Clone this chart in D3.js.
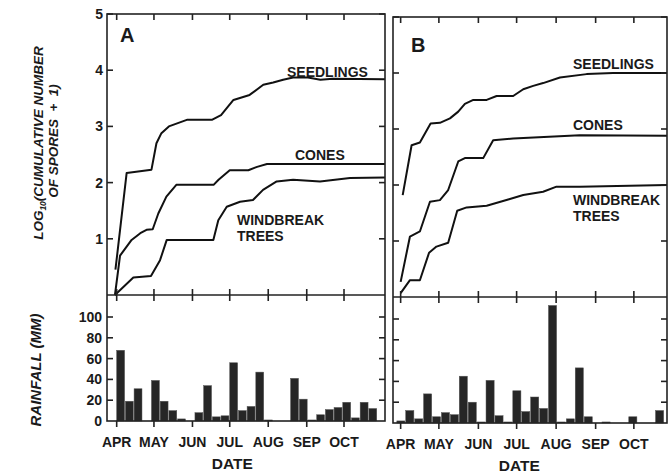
<!DOCTYPE html>
<html>
<head>
<meta charset="utf-8">
<script src="https://cdn.jsdelivr.net/npm/d3@7"></script>
<style>
  body { margin: 0; background: #fff; }
  text { font-family: "Liberation Sans", Arial, sans-serif; font-weight: bold; fill: #1a1a1a; }
</style>
</head>
<body>
<svg id="chart" width="668" height="474"></svg>
<script>
// days since 1 April
var monthDays = [0, 30, 61, 91, 122, 153, 183]
var monthNames = ["APR", "MAY", "JUN", "JUL", "AUG", "SEP", "OCT"]
var logTicks = [1, 2, 3, 4, 5]
var rainTicks = [0, 20, 40, 60, 80, 100]

// panel A: [day, log10(cumulative spores + 1)]
var seedlingsA = [[-1, 0.45], [8, 2.17], [28, 2.23], [32, 2.7], [36, 2.88], [42, 3.0], [57, 3.12], [77, 3.12], [84, 3.2], [94, 3.47], [107, 3.56], [118, 3.74], [126, 3.78], [134, 3.83], [142, 3.87], [154, 3.87], [164, 3.83], [174, 3.85], [216, 3.84]]
var conesA = [[-1.4, 0], [2.7, 0.7], [12, 0.98], [19, 1.1], [24, 1.16], [29, 1.17], [33.5, 1.45], [40, 1.75], [48, 1.96], [78, 1.96], [82, 2.05], [91, 2.22], [106, 2.22], [113, 2.28], [121, 2.33], [216, 2.33]]
var windbreakA = [[-1.4, 0], [13.4, 0.31], [27.6, 0.34], [34.9, 0.62], [40.3, 0.98], [77.8, 0.98], [81.8, 1.33], [88.6, 1.57], [99.3, 1.66], [109.7, 1.69], [117.8, 1.87], [128.8, 2.02], [142, 2.05], [163.7, 2.02], [187.8, 2.08], [216, 2.09]]

// panel B
var seedlingsB = [[1.6, 1.82], [8.6, 2.71], [15.1, 2.76], [23.5, 3.1], [30.8, 3.11], [38.7, 3.19], [45.2, 3.31], [50.4, 3.45], [57, 3.52], [67.5, 3.52], [75.3, 3.59], [88.3, 3.59], [96.2, 3.71], [104, 3.77], [111.8, 3.82], [125, 3.92], [145.9, 3.98], [166.7, 4.0], [209, 4.0]]
var conesB = [[0, 0.27], [7.3, 1.08], [15.1, 1.17], [23, 1.7], [30.8, 1.73], [37.3, 1.91], [45.2, 2.42], [50.4, 2.48], [64.8, 2.48], [72.6, 2.8], [88.3, 2.83], [140.6, 2.89], [209, 2.88]]
var windbreakB = [[0, 0.07], [7.3, 0.3], [15.1, 0.3], [22.3, 0.79], [28.1, 0.9], [37.3, 0.97], [44.4, 1.54], [51.8, 1.6], [67.5, 1.63], [84.4, 1.74], [96.2, 1.82], [111.8, 1.88], [122.3, 1.97], [140.6, 1.97], [209, 2.0]]

// weekly rainfall (mm)
var rainA = [68, 19, 31, 0, 39, 19, 10, 2, 0, 8, 34, 4, 5, 56, 10, 14, 47, 1, 0, 0, 41, 21, 1, 6, 11, 13, 18, 3, 18, 12]
var rainB = [2, 12, 4, 28, 6, 10, 8, 45, 20, 1, 41, 7, 1, 31, 11, 25, 14, 113, 1, 4, 53, 6, 0, 1, 0, 0, 6, 0, 0, 12]
var weekStartA = 0
var weekStartB = -3

var svg = d3.select("#chart")

var panels = [
  { id: "A", left: 107, right: 385, top: 14, mid: 295, bottom: 421, dom: [-7.8, 216],
    seedlings: seedlingsA, cones: conesA, windbreak: windbreakA, rain: rainA, weekStart: weekStartA,
    letter: [120, 42], lab: { seed: [287, 77], cones: [295, 160], wind: [237, 225] }, axisLabels: true },
  { id: "B", left: 393, right: 667, top: 17, mid: 297, bottom: 423, dom: [-6, 209],
    seedlings: seedlingsB, cones: conesB, windbreak: windbreakB, rain: rainB, weekStart: weekStartB,
    letter: [411, 52], lab: { seed: [573, 69], cones: [573, 130], wind: [573, 205] }, axisLabels: false }
]

panels.forEach(drawPanel)

function drawPanel(p)
{
  var g = svg.append("g")
  var tk = 6

  var x = d3.scaleLinear().domain(p.dom).range([p.left, p.right])
  var y = d3.scaleLinear().domain([0, 5]).range([p.mid, p.top])
  var yr = d3.scaleLinear().domain([0, 100]).range([p.bottom, p.bottom - 104])

  // bars
  var bw = x(7) - x(0)
  g.selectAll(".bar")
    .data(p.rain)
    .enter().append("rect")
    .attr("x", function(d, i) { return x(p.weekStart + 7 * i) })
    .attr("width", bw - 0.8)
    .attr("y", function(d) { return yr(d) })
    .attr("height", function(d) { return p.bottom - yr(d) })
    .attr("fill", "#262626")
    .attr("stroke", "#555")
    .attr("stroke-width", 0.5)

  // cumulative curves
  var line = d3.line()
    .x(function(d) { return x(d[0]) })
    .y(function(d) { return y(d[1]) })
  ;[p.seedlings, p.cones, p.windbreak].forEach(function(s) {
    g.append("path")
      .attr("d", line(s))
      .attr("fill", "none")
      .attr("stroke", "#111")
      .attr("stroke-width", 2)
      .attr("stroke-linejoin", "round")
  })

  // frame
  var ax = g.append("g").attr("stroke", "#222").attr("stroke-width", 1.6).attr("fill", "none")
  ax.append("rect")
    .attr("x", p.left).attr("y", p.top)
    .attr("width", p.right - p.left).attr("height", p.bottom - p.top)
  ax.append("line")
    .attr("x1", p.left).attr("x2", p.right)
    .attr("y1", p.mid).attr("y2", p.mid)

  // month ticks
  monthDays.forEach(function(d) {
    var xx = x(d)
    ax.append("line").attr("x1", xx).attr("x2", xx).attr("y1", p.top).attr("y2", p.top + tk)
    ax.append("line").attr("x1", xx).attr("x2", xx).attr("y1", p.mid - tk).attr("y2", p.mid + tk)
    ax.append("line").attr("x1", xx).attr("x2", xx).attr("y1", p.bottom).attr("y2", p.bottom + tk)
  })

  // y ticks (inward both sides)
  logTicks.forEach(function(v) {
    ax.append("line").attr("x1", p.left).attr("x2", p.left + tk).attr("y1", y(v)).attr("y2", y(v))
    ax.append("line").attr("x1", p.right - tk).attr("x2", p.right).attr("y1", y(v)).attr("y2", y(v))
  })
  rainTicks.slice(1).forEach(function(v) {
    ax.append("line").attr("x1", p.left).attr("x2", p.left + tk).attr("y1", yr(v)).attr("y2", yr(v))
    ax.append("line").attr("x1", p.right - tk).attr("x2", p.right).attr("y1", yr(v)).attr("y2", yr(v))
  })

  // month labels
  g.selectAll(".mlab")
    .data(monthNames)
    .enter().append("text")
    .attr("x", function(d, i) { return x(monthDays[i]) })
    .attr("y", p.bottom + 26)
    .attr("text-anchor", "middle")
    .attr("font-size", 14)
    .text(function(d) { return d })

  g.append("text")
    .attr("x", (x(monthDays[0]) + x(monthDays[6])) / 2 + 2)
    .attr("y", p.bottom + 48)
    .attr("text-anchor", "middle")
    .attr("font-size", 15.5)
    .text("DATE")

  // panel letter
  g.append("text")
    .attr("x", p.letter[0]).attr("y", p.letter[1])
    .attr("font-size", 20)
    .text(p.id)

  // series labels
  g.append("text").attr("x", p.lab.seed[0]).attr("y", p.lab.seed[1]).attr("font-size", 14).text("SEEDLINGS")
  g.append("text").attr("x", p.lab.cones[0]).attr("y", p.lab.cones[1]).attr("font-size", 14).text("CONES")
  g.append("text").attr("x", p.lab.wind[0]).attr("y", p.lab.wind[1]).attr("font-size", 14).text("WINDBREAK")
  g.append("text").attr("x", p.lab.wind[0]).attr("y", p.lab.wind[1] + 16).attr("font-size", 14).text("TREES")

  if (!p.axisLabels) return

  g.selectAll(".ylab")
    .data(logTicks)
    .enter().append("text")
    .attr("x", p.left - 4)
    .attr("y", function(d) { return y(d) + 5 })
    .attr("text-anchor", "end")
    .attr("font-size", 14)
    .text(function(d) { return d })

  g.selectAll(".rlab")
    .data(rainTicks)
    .enter().append("text")
    .attr("x", p.left - 5)
    .attr("y", function(d) { return yr(d) + 5 })
    .attr("text-anchor", "end")
    .attr("font-size", 14)
    .text(function(d) { return d })

  // rotated titles
  var t1 = g.append("text")
    .attr("transform", "translate(43,143) rotate(-90)")
    .attr("text-anchor", "middle")
    .attr("font-size", 13.5)
    .attr("font-style", "italic")
  t1.append("tspan").text("LOG")
  t1.append("tspan").attr("font-size", 8.5).attr("dy", 3).text("10")
  t1.append("tspan").attr("dy", -3).text("(CUMULATIVE NUMBER")

  g.append("text")
    .attr("transform", "translate(58,141) rotate(-90)")
    .attr("text-anchor", "middle")
    .attr("font-size", 13.5)
    .attr("font-style", "italic")
    .attr("xml:space", "preserve")
    .text("OF SPORES  +  1)")

  g.append("text")
    .attr("transform", "translate(41,370) rotate(-90)")
    .attr("text-anchor", "middle")
    .attr("font-size", 15)
    .attr("font-style", "italic")
    .text("RAINFALL (MM)")
}
</script>
</body>
</html>
